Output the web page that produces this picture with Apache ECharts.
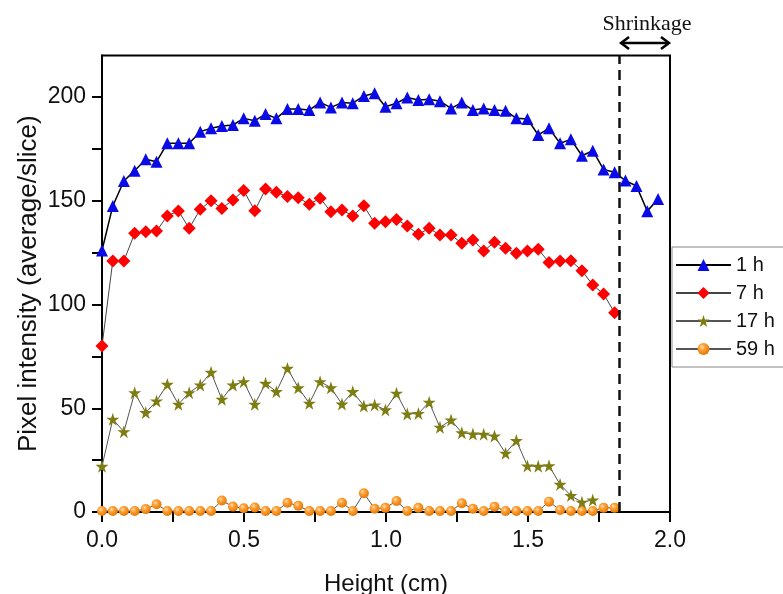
<!DOCTYPE html>
<html><head><meta charset="utf-8">
<script src="https://cdn.jsdelivr.net/npm/echarts@6.0.0/dist/echarts.min.js"></script>
<style>html,body{margin:0;padding:0;background:#fff}#c{width:783px;height:594px}</style>
</head><body><div id="c"></div>
<script>
// Heights (cm) of slices
var heights = [0,0.038,0.077,0.115,0.154,0.192,0.230,0.269,0.307,0.346,0.384,0.422,0.461,0.499,0.538,0.576,0.614,0.653,0.691,0.730,0.768,0.806,0.845,0.883,0.922,0.960,0.998,1.037,1.075,1.114,1.152,1.190,1.229,1.267,1.306,1.344,1.382,1.421,1.459,1.498,1.536,1.574,1.613,1.651,1.690,1.728,1.766,1.805,1.843,1.882,1.920,1.958];
var seriesNames = ['1 h','7 h','17 h','59 h'];
var h1 = [126,147.5,159.5,164.5,170,168.8,177.7,177.7,177.7,183.3,184.9,186,186.5,189.7,188.6,191.8,189.7,194.2,194.2,193.7,197.4,195,197.3,197,200.5,201.8,195.3,197,199.8,198.6,198.9,198,194.5,197.3,193.7,194.5,193.7,193.4,189.7,189.4,181.7,184.9,177.7,179.6,171.7,174.1,165.1,163.7,159.7,157.1,145,150.8];
var h7 = [80,121,121,134.3,135.1,135.4,142.7,145.1,136.7,145.9,150,146.3,150.4,154.9,145.2,155.7,154.1,152,151.5,148.3,151.2,144.7,145.5,142.7,147.6,139.1,139.9,141,137.8,133.8,136.7,133.5,133.5,129.5,131.1,125.8,130,127.1,124.7,125.8,126.6,120.3,121,121.1,116.3,109.4,105.1,96];
var h17 = [22,44.7,38.7,57.5,47.9,53.5,61.5,51.9,57.5,61.2,67.3,54.3,61.2,62.8,51.9,62,58,69.2,59.9,52.4,62.8,59.9,52,58,51.1,51.6,49.2,57.2,47.2,47.5,52.9,40.8,44.3,38.2,37.6,37.5,36.6,28.3,34.4,22.2,22,22.3,13.3,7.9,4.7,5.8];
var h59 = [0.5,0.5,0.5,0.5,1.4,3.7,0.5,0.5,0.5,0.5,0.5,5.5,2.6,1.8,2.2,0.5,0.5,4.5,3,0.5,0.5,0.5,4.5,0.5,9,1.6,2,5.3,0.5,2,0.5,0.5,0.5,4.2,1.6,0.5,2.5,0.5,0.5,0.5,0.5,5,1,0.5,0.5,0.5,2,2];
var yTicks = [0,25,50,75,100,125,150,175,200];
var yLabels = [0,50,100,150,200];
var shrinkStart = 1.824;   // dashed line position (cm)
var shrinkEnd = 2.0;
var arrowY = 226, textY = 235;

function pairs(vals){ return vals.map(function(v,i){ return [heights[i], v]; }); }

var FONT = '"Liberation Sans", Arial, sans-serif';
var chart = echarts.init(document.getElementById('c'), null, {renderer:'canvas'});
var starPath = 'path://M50,0 L61.2,34.5 L97.6,34.5 L68.2,55.9 L79.4,90.5 L50,69.1 L20.6,90.5 L31.8,55.9 L2.4,34.5 L38.8,34.5 Z';
var sphere = {type:'radial', x:0.38, y:0.35, r:0.7, colorStops:[{offset:0,color:'#ffe2b8'},{offset:0.35,color:'#ffa035'},{offset:1,color:'#e07400'}]};

var option = {
  animation:false,
  backgroundColor:'#fff',
  grid:{left:102, right:113, top:55.5, bottom:82, show:true, borderColor:'#000', borderWidth:2,
        backgroundColor:'transparent', containLabel:false, outerBoundsMode:'none'},
  legend:{
    orient:'vertical', left:672, top:247,
    padding:[8,12,8,3], itemGap:8, itemWidth:55, itemHeight:15,
    borderColor:'#888', borderWidth:1, backgroundColor:'#fff',
    textStyle:{fontFamily:FONT, fontSize:20, color:'#111', lineHeight:20},
    data:seriesNames
  },
  xAxis:{
    type:'value', min:0, max:2, interval:0.25,
    name:'Height (cm)', nameLocation:'middle', nameGap:60, nameMoveOverlap:false,
    nameTextStyle:{fontFamily:FONT, fontSize:24, color:'#111'},
    axisLine:{show:true, onZero:false, lineStyle:{color:'#000', width:2}},
    axisTick:{show:true, inside:false, length:10, lineStyle:{color:'#000', width:2}},
    axisLabel:{margin:17, fontFamily:FONT, fontSize:23, color:'#111',
      formatter:function(v){ return Math.abs(v*2-Math.round(v*2))<1e-6 ? v.toFixed(1) : ''; }},
    splitLine:{show:false}
  },
  yAxis:{
    type:'value', min:0, max:220,
    name:'Pixel intensity (average/slice)', nameLocation:'middle', nameGap:60, nameMoveOverlap:false,
    nameTextStyle:{fontFamily:FONT, fontSize:26, color:'#111'},
    axisLine:{show:true, lineStyle:{color:'#000', width:2}},
    axisTick:{show:true, inside:false, length:10, lineStyle:{color:'#000', width:2}, customValues:yTicks},
    axisLabel:{margin:16, fontFamily:FONT, fontSize:23, color:'#111', customValues:yLabels},
    splitLine:{show:false}
  },
  series:[
    {name:seriesNames[0], type:'line', data:pairs(h1), symbol:'triangle', symbolSize:12,
     itemStyle:{color:'#0a0ae6'}, lineStyle:{color:'#000', width:1.5}, z:5,
     markLine:{silent:true, symbol:['none','none'], label:{show:false},
       lineStyle:{type:[10,6], color:'#111', width:2.5}, data:[{xAxis:shrinkStart}]}},
    {name:seriesNames[1], type:'line', data:pairs(h7), symbol:'diamond', symbolSize:13,
     itemStyle:{color:'#ff0000'}, lineStyle:{color:'#444', width:1}, z:4},
    {name:seriesNames[2], type:'line', data:pairs(h17), symbol:starPath, symbolSize:13,
     itemStyle:{color:'#7d7d12'}, lineStyle:{color:'#555', width:1}, z:3},
    {name:seriesNames[3], type:'line', data:pairs(h59), symbol:'circle', symbolSize:10,
     itemStyle:{color:sphere}, lineStyle:{color:'#555', width:1}, z:2}
  ]
};
chart.setOption(option);

var p1 = chart.convertToPixel({gridIndex:0}, [shrinkStart, arrowY]);
var p2 = chart.convertToPixel({gridIndex:0}, [shrinkEnd, arrowY]);
var pt = chart.convertToPixel({gridIndex:0}, [(shrinkStart+shrinkEnd)/2, textY]);
var ax1 = p1[0]+1, ax2 = p2[0]-1, ay = p1[1];
chart.setOption({graphic:[
  {type:'line', shape:{x1:ax1, y1:ay, x2:ax2, y2:ay}, style:{stroke:'#000', lineWidth:2.5}, z:100},
  {type:'polyline', shape:{points:[[ax1+8,ay-6],[ax1,ay],[ax1+8,ay+6]]}, style:{stroke:'#000', lineWidth:2.5, fill:null}, z:100},
  {type:'polyline', shape:{points:[[ax2-8,ay-6],[ax2,ay],[ax2-8,ay+6]]}, style:{stroke:'#000', lineWidth:2.5, fill:null}, z:100},
  {type:'text', x:pt[0]+2, y:pt[1], style:{text:'Shrinkage', align:'center', verticalAlign:'middle',
     fontFamily:'"Liberation Serif", "Times New Roman", serif', fontSize:22, fill:'#111'}, z:100}
]});
</script></body></html>
